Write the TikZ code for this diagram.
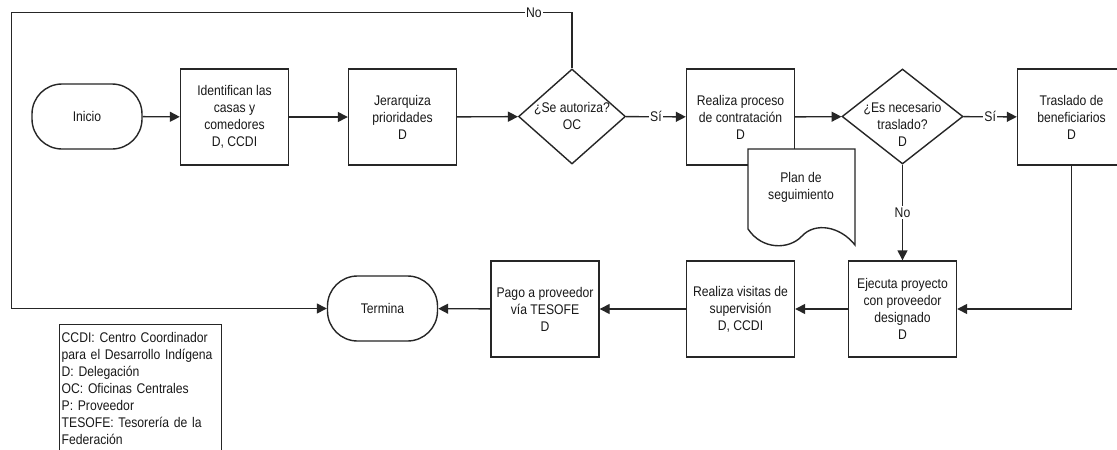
\documentclass[tikz,border=0pt]{standalone}
\usepackage{fontspec}
\setmainfont{Liberation Sans}[FakeStretch=0.87]
\usetikzlibrary{arrows.meta,shapes.geometric}

\tikzset{
	flujo/.style={draw=black!85, line width=1.4pt, text=black!90, font=\fontsize{14}{17}\selectfont, align=center, inner sep=0pt},
	proceso/.style={flujo, rectangle, minimum width=108pt, minimum height=96pt},
	decision/.style={flujo, diamond, minimum width=107pt, minimum height=95pt},
	terminal/.style={flujo, rectangle, rounded corners=30pt, minimum width=110pt, minimum height=65pt},
	texto/.style={text=black!90, font=\fontsize{14}{17}\selectfont, align=center, inner sep=0pt},
	etiqueta/.style={texto, fill=white, inner sep=1.5pt},
	conector/.style={draw=black!85, line width=1.4pt, -{Triangle[length=10pt,width=10pt]}},
}

\begin{document}
\begin{tikzpicture}[x=1pt, y=-1pt]
			%%%%% START %%%%%
			
			\useasboundingbox[fill=white] (0, 0) rectangle (1117, 450);
			
			\node[terminal] (inicio) at (87, 116.5) {Inicio};
			\node[proceso] (identifican) at (234.5, 117) {Identifican las\\casas y\\comedores\\D, CCDI};
			\node[proceso] (jerarquiza) at (402.5, 117) {Jerarquiza\\prioridades\\D};
			\node[decision] (autoriza) at (572, 116.5) {};
			\node[texto] (autoriza-t) at (572, 116) {¿Se autoriza?\\OC};
			\node[proceso] (contratacion) at (740.5, 117) {Realiza proceso\\de contratación\\D};
			\node[decision, minimum width=121pt] (traslado) at (902.5, 116.5) {};
			\node[texto] (traslado-t) at (902.5, 124) {¿Es necesario\\traslado?\\D};
			\node[proceso] (beneficiarios) at (1071.5, 117) {Traslado de\\beneficiarios\\D};
			
			\node[proceso] (ejecuta) at (902.5, 309) {Ejecuta proyecto\\con proveedor\\designado\\D};
			\node[proceso] (visitas) at (740.5, 309) {Realiza visitas de\\supervisión\\D, CCDI};
			\node[proceso] (pago) at (545, 309) {Pago a proveedor\\vía TESOFE\\D};
			\node[terminal] (termina) at (382.5, 308.5) {Termina};
			
			\draw[draw=black!85, line width=1.4pt, fill=white] (748, 149) -- (855, 149) -- (855, 245)
				.. controls (840, 226) and (815, 222) .. (802, 236)
				.. controls (789, 250) and (762, 250) .. (748, 229) -- cycle;
			\node[texto] (plan) at (801, 187) {Plan de\\seguimiento};
			
			\node[flujo, anchor=north west, align=left, inner xsep=2pt, inner ysep=7.5pt, text width=158pt] (leyenda) at (59, 324)
				{CCDI: Centro Coordinador\\para el Desarrollo Indígena\\D: Delegación\\OC: Oficinas Centrales\\P: Proveedor\\TESOFE: Tesorería de la\\Federación};
			
			\coordinate (retorno) at (11.7, 12.7);
			
			\draw[conector] (inicio) -- (identifican);
			\draw[conector] (identifican) -- (jerarquiza);
			\draw[conector] (jerarquiza) -- (autoriza);
			\draw[conector] (autoriza) -- node[etiqueta] {Sí} (contratacion);
			\draw[conector] (contratacion) -- (traslado);
			\draw[conector] (traslado) -- node[etiqueta] {Sí} (beneficiarios);
			\draw[conector] (traslado) -- node[etiqueta] {No} (ejecuta);
			\draw[conector] (beneficiarios.south) |- (ejecuta.east);
			\draw[conector] (ejecuta) -- (visitas);
			\draw[conector] (visitas) -- (pago);
			\draw[conector] (pago) -- (termina);
			\draw[conector] (autoriza.north) |- node[etiqueta, pos=0.534] {No} (retorno) |- (termina.west);
			
			%%%%% END %%%%%
\end{tikzpicture}
\end{document}
